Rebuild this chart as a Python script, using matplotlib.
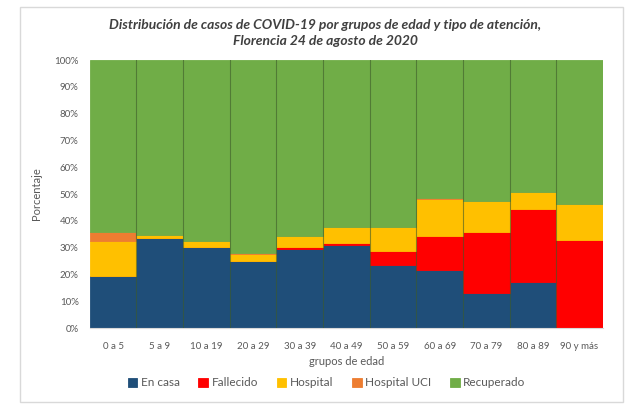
import numpy as np
import matplotlib.pyplot as plt
from matplotlib.patches import Rectangle

plt.rcParams['font.family'] = ['Lato', 'DejaVu Sans']

grupos = ["0 a 5", "5 a 9", "10 a 19", "20 a 29", "30 a 39", "40 a 49",
          "50 a 59", "60 a 69", "70 a 79", "80 a 89", "90 y más"]

# porcentajes por tipo de atención (%)
en_casa = [19.3, 33.5, 30.2, 25.1, 29.6, 31.1, 23.6, 21.7, 13.0, 17.1, 0.0]
fallecido = [0.0, 0.0, 0.0, 0.0, 0.8, 0.8, 5.0, 12.5, 23.0, 27.2, 32.9]
hospital = [13.2, 1.3, 2.2, 2.6, 3.8, 5.7, 9.3, 13.9, 11.6, 6.4, 13.4]
hospital_uci = [3.4, 0.0, 0.0, 0.3, 0.0, 0.0, 0.0, 0.3, 0.0, 0.0, 0.0]
recuperado = [100 - a - b - c - d for a, b, c, d in
              zip(en_casa, fallecido, hospital, hospital_uci)]

series = [
    ("En casa", en_casa, "#1f4e79"),
    ("Fallecido", fallecido, "#ff0000"),
    ("Hospital", hospital, "#ffc000"),
    ("Hospital UCI", hospital_uci, "#ed7d31"),
    ("Recuperado", recuperado, "#70ad47"),
]

fig = plt.figure(figsize=(6.28, 4.04), dpi=100)
ax = fig.add_axes([0.143, 0.188, 0.817, 0.663])

x = np.arange(len(grupos))
bottom = np.zeros(len(grupos))
for name, vals, color in series:
    vals = np.array(vals)
    ax.bar(x, vals, width=1.0, bottom=bottom, color=color, label=name,
           edgecolor=color, linewidth=0.6)
    bottom += vals

# separadores oscuros entre barras
for xi in x[:-1]:
    ax.axvline(xi + 0.5, color="#3d5a2a", linewidth=0.8, alpha=0.6, zorder=3)

ax.set_xlim(-0.5, len(grupos) - 0.5)
ax.set_ylim(0, 100)
ax.set_yticks(np.arange(0, 101, 10))
ax.set_yticklabels([f"{v}%" for v in range(0, 101, 10)])
ax.set_xticks(x)
ax.set_xticklabels(grupos)
ax.tick_params(axis="y", length=0, labelsize=7, colors="#595959", pad=8)
ax.tick_params(axis="x", length=0, labelsize=7, colors="#595959", pad=10)
for s in ["top", "right", "left"]:
    ax.spines[s].set_visible(False)
ax.spines["bottom"].set_color("#d9d9d9")

ax.set_xlabel("grupos de edad", fontsize=8, color="#595959", labelpad=4)
ax.set_ylabel("Porcentaje", fontsize=8, color="#595959", labelpad=9)

fig.text(0.518, 0.918, "Distribución de casos de COVID-19 por grupos de edad y tipo de atención,\nFlorencia 24 de agosto de 2020",
         ha="center", va="center", fontsize=10, fontweight="bold", fontstyle="italic",
         color="#404040", linespacing=1.35)

leg = fig.legend(loc="center", bbox_to_anchor=(0.52, 0.052), ncol=5, frameon=False,
                 fontsize=8.5, handlelength=0.8, handleheight=0.8, handletextpad=0.3,
                 columnspacing=1.6)
for t in leg.get_texts():
    t.set_color("#595959")

# marco del gráfico
fig.patches.append(Rectangle((20 / 628, 2 / 404), 603 / 628, 395 / 404,
                             transform=fig.transFigure, fill=False,
                             edgecolor="#d9d9d9", linewidth=1))

fig.savefig("out.png", dpi=100)
